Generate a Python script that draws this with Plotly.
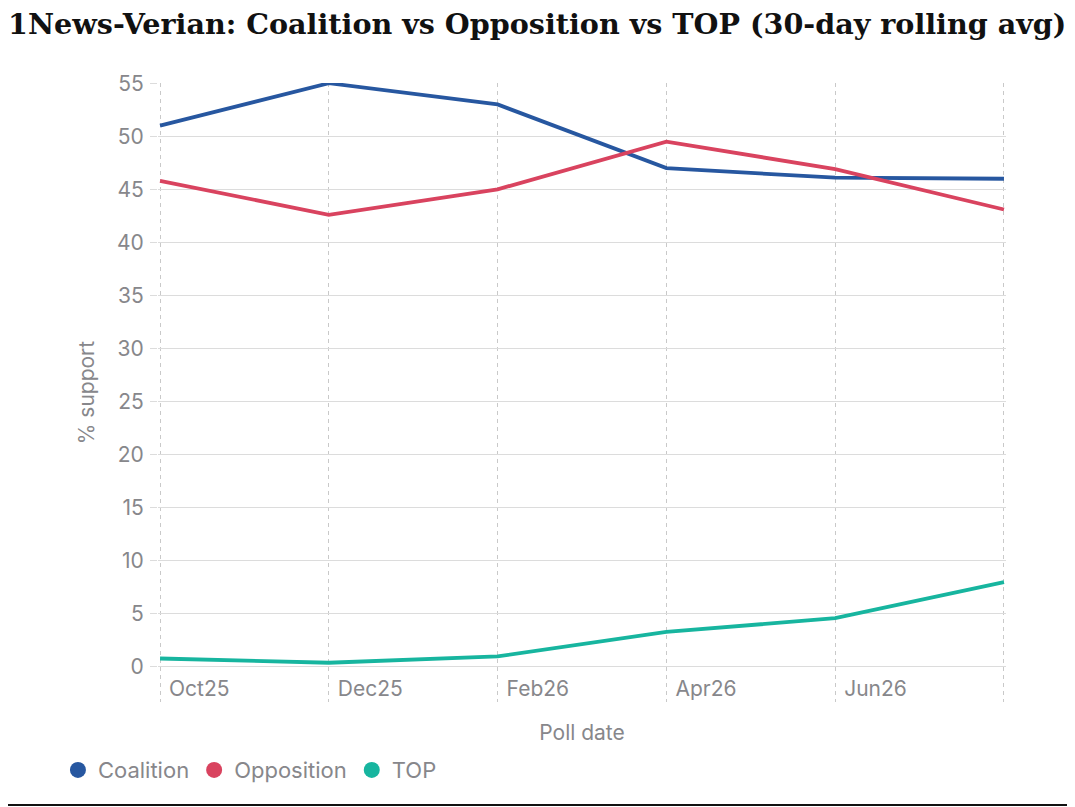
import plotly.graph_objects as go

# poll dates (last point unlabelled on the axis)
poll_dates = ["Oct25", "Dec25", "Feb26", "Apr26", "Jun26", "Aug26"]
tick_text = ["Oct25", "Dec25", "Feb26", "Apr26", "Jun26", ""]

coalition = [51.0, 55.0, 53.0, 47.0, 46.1, 46.0]
opposition = [45.8, 42.6, 45.0, 49.5, 46.9, 43.1]
top_party = [0.8, 0.4, 1.0, 3.3, 4.6, 8.0]

y_ticks = [0, 5, 10, 15, 20, 25, 30, 35, 40, 45, 50, 55]

series = [
    ("Coalition", coalition, "#2757a0"),
    ("Opposition", opposition, "#d9435f"),
    ("TOP", top_party, "#17b59f"),
]

text_grey = "#87878b"
font_family = "Inter, Roboto, sans-serif"

# page has an 8px body margin, so the figure is a bit smaller than the window
W, H = 1067, 799

fig = go.Figure()

for name, vals, col in series:
    fig.add_trace(go.Scatter(x=poll_dates, y=vals, mode="lines", name=name,
                             line=dict(color=col, width=3.8), showlegend=False,
                             hoverinfo="skip", cliponaxis=False))

# legend entries shown as dots
for name, vals, col in series:
    fig.add_trace(go.Scatter(x=[None], y=[None], mode="markers", name=name,
                             marker=dict(color=col, size=16)))

fig.update_layout(
    width=W, height=H,
    paper_bgcolor="white", plot_bgcolor="white",
    margin=dict(l=150, r=69, t=75, b=105, autoexpand=False),
    font=dict(family=font_family, color=text_grey, size=21),
    title=dict(text="<b>1News-Verian: Coalition vs Opposition vs TOP (30-day rolling avg)</b>",
               font=dict(family="DejaVu Serif", size=28.6, color="#111111"),
               x=0, xref="container", xanchor="left",
               y=1 - 16 / H, yref="container", yanchor="middle"),
    xaxis=dict(
        type="category", range=[-0.012, 5.012],
        tickvals=poll_dates, ticktext=tick_text,
        showgrid=True, gridcolor="#c9c9c9", griddash="4px,4px", gridwidth=1,
        ticks="", showline=False, zeroline=False,
        ticklabelposition="inside right", ticklabelshift=9, ticklabelstandoff=-4,
        tickfont=dict(size=21, color=text_grey),
        title=dict(text="Poll date", standoff=25, font=dict(size=21, color=text_grey)),
    ),
    yaxis=dict(
        range=[-3.3, 55.02], tickvals=y_ticks,
        showgrid=True, gridcolor="#dcdcdc", gridwidth=1.3,
        ticks="outside", ticklen=7, tickcolor="#dcdcdc",
        ticklabelstandoff=2, showline=False, zeroline=False,
        tickfont=dict(size=21, color=text_grey),
        title=dict(text="% support", standoff=16, font=dict(size=21, color=text_grey)),
    ),
    legend=dict(orientation="h", x=-0.118, xanchor="left", y=-0.11, yanchor="middle",
                font=dict(size=22, color=text_grey), bgcolor="rgba(0,0,0,0)"),
    shapes=[dict(type="line", xref="paper", yref="paper", x0=-0.2, x1=1.1,
                 y0=-0.1665, y1=-0.1665, line=dict(color="#111111", width=2))],
)

fig.write_html("out.html")
